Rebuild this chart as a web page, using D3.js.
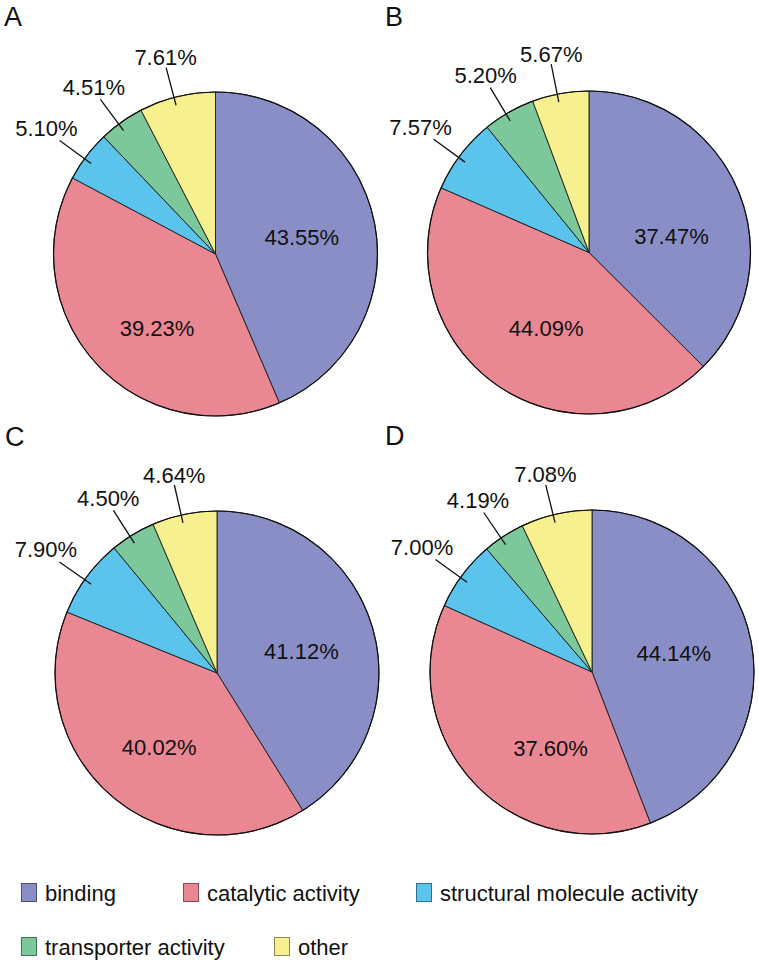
<!DOCTYPE html>
<html>
<head>
<meta charset="utf-8">
<script src="https://cdn.jsdelivr.net/npm/d3@7"></script>
<style>
  html, body { margin: 0; padding: 0; background: #fff; }
  svg { display: block; }
  text { font-family: "Liberation Sans", Arial, Helvetica, sans-serif; fill: #111; }
</style>
</head>
<body>
<svg id="chart" width="759" height="966"></svg>
<script>
// ---------------- DATA ----------------
const categories = ["binding", "catalytic activity", "structural molecule activity", "transporter activity", "other"];
const panelNames = ["A", "B", "C", "D"];
const valuesA = [43.55, 39.23, 5.10, 4.51, 7.61];
const valuesB = [37.47, 44.09, 7.57, 5.20, 5.67];
const valuesC = [41.12, 40.02, 7.90, 4.50, 6.46];   // "other" slice as drawn in the picture
const valuesD = [44.14, 37.60, 7.00, 4.19, 7.08];
const labelsA = ["43.55%", "39.23%", "5.10%", "4.51%", "7.61%"];
const labelsB = ["37.47%", "44.09%", "7.57%", "5.20%", "5.67%"];
const labelsC = ["41.12%", "40.02%", "7.90%", "4.50%", "4.64%"];
const labelsD = ["44.14%", "37.60%", "7.00%", "4.19%", "7.08%"];

// ---------------- STYLE / LAYOUT ----------------
const colors = ["#8a8ec6", "#e98893", "#5ac4ec", "#7cc89b", "#f6f08f"];
const panelLayout = [
  { cx: 215.5, cy: 254,   r: 162,   lx: 4,   ly: 26 },
  { cx: 589,   cy: 252.5, r: 161.5, lx: 385, ly: 26 },
  { cx: 217,   cy: 673,   r: 162,   lx: 5,   ly: 446 },
  { cx: 592,   cy: 672,   r: 162,   lx: 385, ly: 445 }
];
// inner label placement: [angle in degrees clockwise from top, radius in px]
const innerLabelPolar = [
  [[78.9, 88], [218, 95]],
  [[79, 84],   [209.5, 87]],
  [[76, 87],   [218, 94]],
  [[77, 84],   [208.5, 87]]
];
const legendLayout = [
  { x: 21, y: 883 }, { x: 183, y: 883 }, { x: 416, y: 883 },
  { x: 21, y: 937 }, { x: 274, y: 937 }
];

const allValues = [valuesA, valuesB, valuesC, valuesD];
const allLabels = [labelsA, labelsB, labelsC, labelsD];

const svg = d3.select("#chart");
const color = d3.scaleOrdinal().domain(categories).range(colors);
const pie = d3.pie().sort(null).value(d => d.value);

function polar(cx, cy, a, rad) {
  return [cx + Math.sin(a) * rad, cy - Math.cos(a) * rad];
}

allValues.forEach((vals, pi) => {
  const L = panelLayout[pi];
  const data = vals.map((v, i) => ({ cat: categories[i], value: v, label: allLabels[pi][i], idx: i }));
  const arcs = pie(data);
  const arc = d3.arc().innerRadius(0).outerRadius(L.r);
  const g = svg.append("g").attr("transform", `translate(${L.cx},${L.cy})`);

  g.selectAll("path.slice").data(arcs).join("path")
    .attr("class", "slice")
    .attr("d", arc)
    .attr("fill", d => color(d.data.cat))
    .attr("stroke", "#1a1a1a")
    .attr("stroke-width", 0.9)
    .attr("stroke-linejoin", "round");

  // outer rim
  g.append("circle").attr("r", L.r).attr("fill", "none")
    .attr("stroke", "#111").attr("stroke-width", 1.2);

  // inner labels (binding, catalytic)
  arcs.filter(d => d.data.idx < 2).forEach(d => {
    const [deg, rad] = innerLabelPolar[pi][d.data.idx];
    const [x, y] = polar(0, 0, deg * Math.PI / 180, rad);
    g.append("text").attr("x", x).attr("y", y)
      .attr("text-anchor", "middle").attr("dominant-baseline", "central")
      .attr("font-size", 22).text(d.data.label);
  });

  // outer labels with leader lines
  arcs.filter(d => d.data.idx >= 2).forEach(d => {
    const mid = (d.startAngle + d.endAngle) / 2 - 0.02;
    const s = Math.sin(mid);
    const p1 = polar(0, 0, mid, L.r * 0.95);
    const p2 = polar(0, 0, mid, L.r * 1.19);
    const pt = polar(0, 0, mid + 0.01, L.r * (1.245 + 0.085 * s * s));
    g.append("line")
      .attr("x1", p1[0]).attr("y1", p1[1]).attr("x2", p2[0]).attr("y2", p2[1])
      .attr("stroke", "#111").attr("stroke-width", 1.3);
    g.append("text").attr("x", pt[0]).attr("y", pt[1])
      .attr("text-anchor", "middle").attr("dominant-baseline", "central")
      .attr("font-size", 22).text(d.data.label);
  });

  svg.append("text").attr("x", L.lx).attr("y", L.ly)
    .attr("font-size", 27).text(panelNames[pi]);
});

// legend
const leg = svg.append("g");
categories.forEach((c, i) => {
  const p = legendLayout[i];
  leg.append("rect").attr("x", p.x + 0.5).attr("y", p.y + 0.5)
    .attr("width", 15).attr("height", 18)
    .attr("fill", color(c))
    .attr("stroke", d3.color(color(c)).darker(1.6)).attr("stroke-width", 1);
  leg.append("text").attr("x", p.x + 24).attr("y", p.y + 17.5)
    .attr("font-size", 22).text(c);
});
</script>
</body>
</html>
